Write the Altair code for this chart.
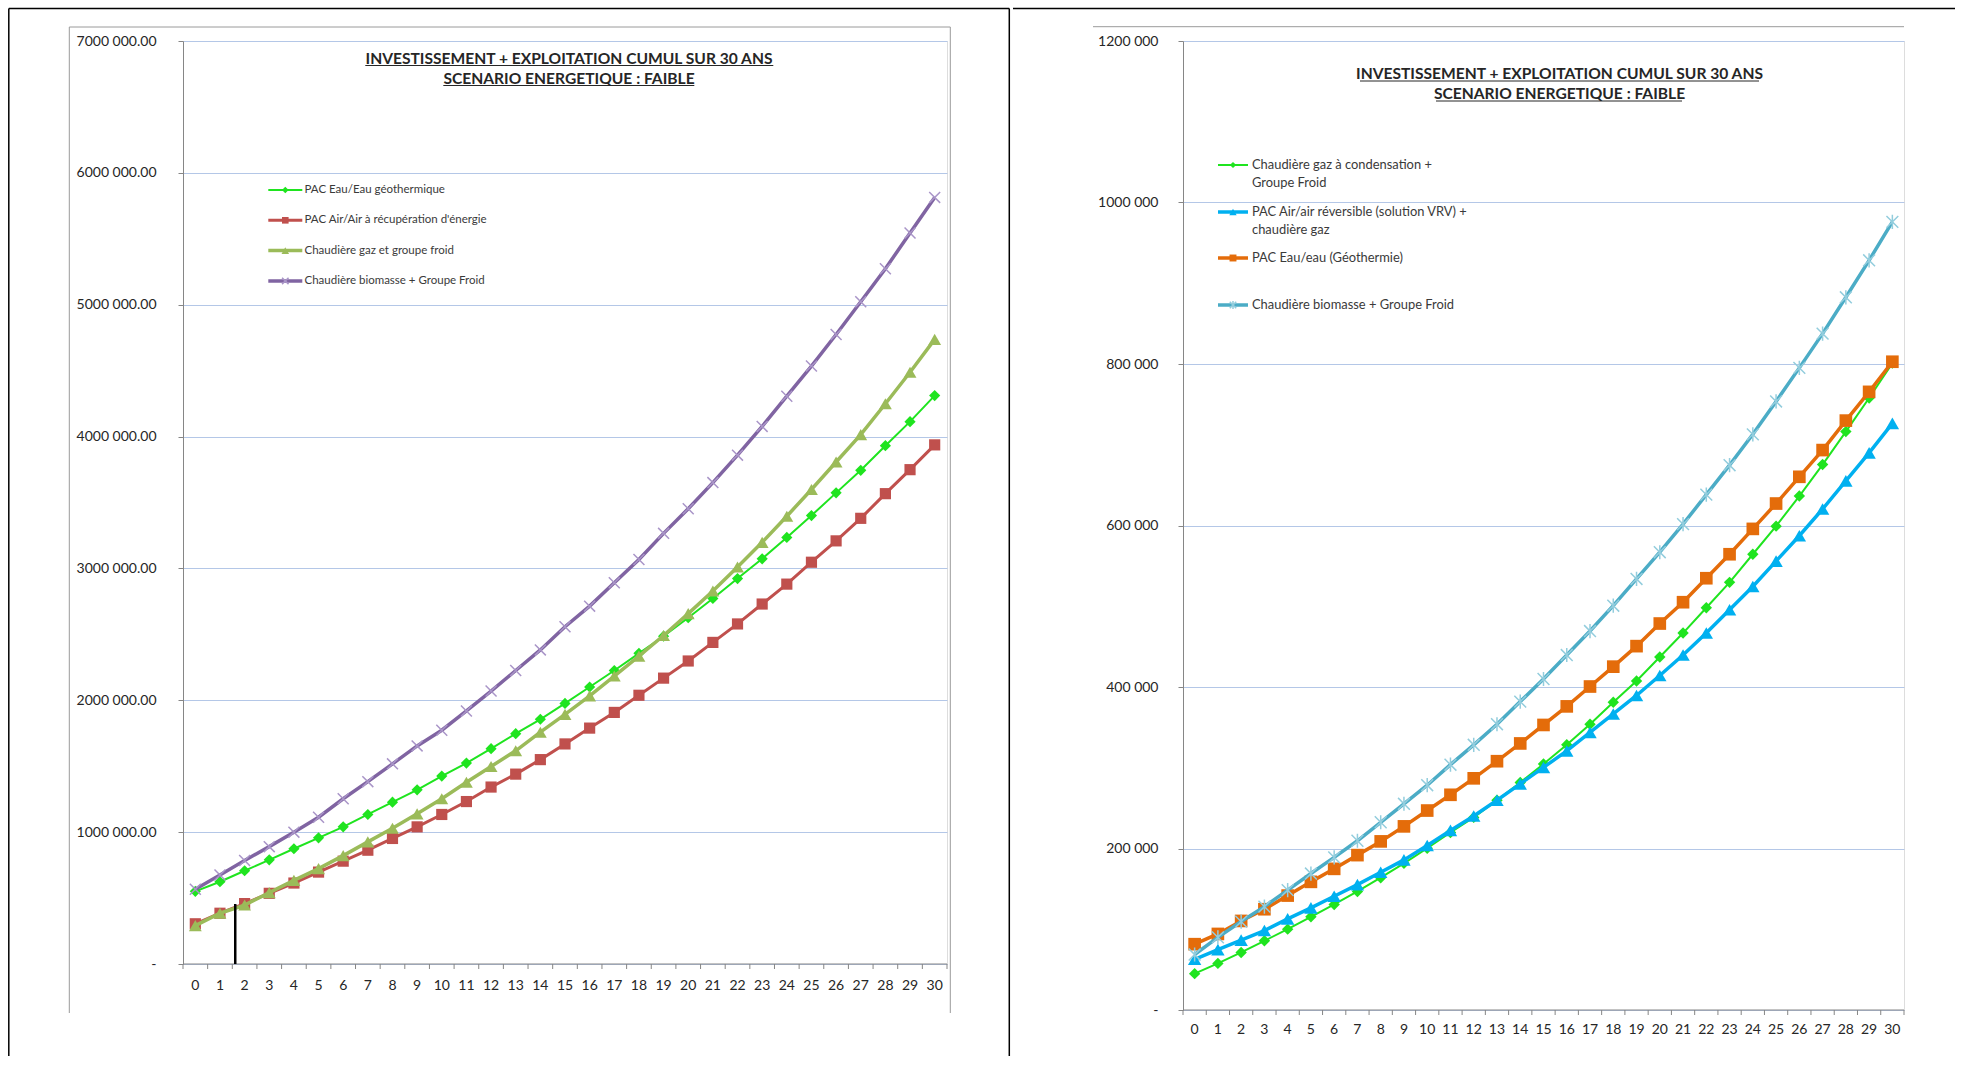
import altair as alt
import pandas as pd

FONT = "Lato"
TEXT = "#262626"
AXIS_GREY = "#868686"
GRID = "#B4C7E7"
FRAME_GREY = "#9A9A9A"

years = list(range(31))

# ---- left panel: cumulated cost over 30 years (EUR) ----
left_names = [
    "PAC Eau/Eau géothermique",
    "PAC Air/Air à récupération d'énergie",
    "Chaudière gaz et groupe froid",
    "Chaudière biomasse + Groupe Froid",
]
left_geo = [551000, 624000, 707000, 790000, 874000, 957000, 1040000, 1134000, 1227000, 1321000,
            1425000, 1524000, 1633000, 1747000, 1856000, 1976000, 2101000, 2226000, 2356000, 2486000,
            2626000, 2772000, 2923000, 3073000, 3235000, 3401000, 3573000, 3744000, 3931000, 4113000,
            4311000]
left_air = [305000, 385000, 458000, 536000, 614000, 697000, 780000, 863000, 952000, 1040000,
            1134000, 1232000, 1342000, 1440000, 1550000, 1669000, 1789000, 1908000, 2038000, 2168000,
            2298000, 2439000, 2579000, 2730000, 2881000, 3047000, 3209000, 3380000, 3567000, 3749000,
            3937000]
left_gaz = [291000, 385000, 447000, 541000, 634000, 723000, 822000, 926000, 1030000, 1139000,
            1253000, 1378000, 1498000, 1617000, 1758000, 1893000, 2033000, 2184000, 2335000, 2491000,
            2657000, 2829000, 3011000, 3198000, 3396000, 3599000, 3807000, 4015000, 4249000, 4488000,
            4737000]
left_bio = [567000, 675000, 785000, 890000, 1000000, 1113000, 1253000, 1383000, 1518000, 1654000,
            1773000, 1919000, 2070000, 2226000, 2382000, 2558000, 2714000, 2891000, 3068000, 3266000,
            3453000, 3651000, 3859000, 4077000, 4306000, 4535000, 4774000, 5023000, 5273000, 5544000,
            5814000]
left_y_ticks = [0, 1000000, 2000000, 3000000, 4000000, 5000000, 6000000, 7000000]
left_marker_year = [1.62]
left_marker_value = [455000]

# ---- right panel ----
right_names = [
    ["Chaudière gaz à condensation +", "Groupe Froid"],
    ["PAC Air/air réversible (solution VRV) +", "chaudière gaz"],
    ["PAC Eau/eau (Géothermie)"],
    ["Chaudière biomasse + Groupe Froid"],
]
right_gaz = [45000, 57700, 71300, 85700, 100100, 115400, 130700, 146800, 163800, 181600,
             200300, 219800, 238500, 259700, 281800, 304700, 328400, 353900, 381100, 407400,
             437100, 466800, 498200, 529600, 564400, 599200, 636500, 675500, 716300, 757900,
             801100]
right_vrv = [62800, 74700, 86600, 98400, 112900, 126500, 140900, 155300, 170600, 185900,
             203700, 222400, 240200, 259700, 280100, 300400, 320800, 343700, 366600, 389500,
             414200, 439600, 466800, 495600, 524500, 555900, 587300, 620400, 655200, 690000,
             726500]
right_geo = [81500, 94200, 110300, 124800, 141700, 158700, 174800, 191800, 208800, 227400,
             247000, 266500, 286900, 308100, 330100, 353000, 376000, 400600, 425200, 450600,
             478600, 505000, 534700, 564400, 595800, 627200, 660300, 693400, 729900, 765500,
             802800]
right_bio = [68700, 90000, 109500, 128000, 148500, 169000, 189000, 209600, 232500, 255400,
             278400, 303800, 328400, 353900, 381900, 409900, 439600, 469300, 500700, 533800,
             566900, 601700, 638200, 674700, 712900, 753600, 795200, 837600, 882600, 928400,
             976000]
right_y_ticks = [0, 200000, 400000, 600000, 800000, 1000000, 1200000]

title_lines = ["INVESTISSEMENT + EXPLOITATION CUMUL SUR 30 ANS ", "SCENARIO ENERGETIQUE : FAIBLE"]

X_CROSS = "M-1,-1L1,1M-1,1L1,-1"
ASTERISK = "M-1,-1L1,1M-1,1L1,-1M0,-1.2L0,1.2"

left_styles = [
    dict(color="#1FE41F", width=2, shape="diamond", size=125, filled=True, mcolor="#1FE41F", mstroke=0),
    dict(color="#C0504D", width=3, shape="square", size=125, filled=True, mcolor="#C0504D", mstroke=0),
    dict(color="#9BBB59", width=3.5, shape="triangle-up", size=165, filled=True, mcolor="#9BBB59", mstroke=0),
    dict(color="#8064A2", width=3.5, shape=X_CROSS, size=120, filled=False, mcolor="#A995C8", mstroke=1.5),
]
right_styles = [
    dict(color="#1FE41F", width=2, shape="diamond", size=130, filled=True, mcolor="#1FE41F", mstroke=0),
    dict(color="#00B0F0", width=3.5, shape="triangle-up", size=180, filled=True, mcolor="#00B0F0", mstroke=0),
    dict(color="#E46C0A", width=3.5, shape="square", size=160, filled=True, mcolor="#E46C0A", mstroke=0),
    dict(color="#4BACC6", width=3.5, shape=ASTERISK, size=140, filled=False, mcolor="#93CDDD", mstroke=1.5),
]

ONE = alt.Data(values=[{"k": 1}])
X_SCALE = alt.Scale(domain=[-0.5, 30.5], nice=False, zero=False)


def hline(x1, x2, y, color, width):
    return alt.Chart(ONE).mark_rule(color=color, strokeWidth=width).encode(
        x=alt.value(x1), x2=alt.value(x2), y=alt.value(y))


def vline(x, y1, y2, color, width):
    return alt.Chart(ONE).mark_rule(color=color, strokeWidth=width).encode(
        x=alt.value(x), y=alt.value(y1), y2=alt.value(y2))


def label(text, x, y, size, bold=False, align="left", color=TEXT):
    return alt.Chart(ONE).mark_text(
        text=text, font=FONT, fontSize=size, fontWeight="bold" if bold else "normal",
        align=align, baseline="middle", color=color,
    ).encode(x=alt.value(x), y=alt.value(y))


def marker(style, x, y, size):
    kw = dict(shape=style["shape"], size=size, opacity=1)
    if style["filled"]:
        kw.update(filled=True, color=style["mcolor"])
    else:
        kw.update(filled=False, color=style["mcolor"], strokeWidth=style["mstroke"])
    return alt.Chart(ONE).mark_point(**kw).encode(x=alt.value(x), y=alt.value(y))


def panel(series, styles, ymax, yticks, label_expr, W, H, y_pad, x_label_dy):
    x_enc = alt.X("annee:Q", scale=X_SCALE,
                  axis=alt.Axis(values=years, ticks=False, grid=False, labels=False,
                                domainColor=AXIS_GREY, domainWidth=1, title=None))
    y_enc = alt.Y("cout:Q", scale=alt.Scale(domain=[0, ymax], nice=False, zero=True),
                  axis=alt.Axis(values=yticks, labelExpr=label_expr, grid=True, gridColor=GRID,
                                gridWidth=1, tickSize=5, tickColor=AXIS_GREY, domainColor=AXIS_GREY,
                                domainWidth=1, labelFont=FONT, labelFontSize=14, labelColor=TEXT,
                                labelPadding=y_pad, title=None))
    layers = []
    for vals, st in zip(series, styles):
        df = pd.DataFrame({"annee": years, "cout": vals})
        base = alt.Chart(df)
        layers.append(base.mark_line(color=st["color"], strokeWidth=st["width"]).encode(x=x_enc, y=y_enc))
        if st["filled"]:
            pt = base.mark_point(shape=st["shape"], size=st["size"], filled=True,
                                 color=st["mcolor"], opacity=1)
        else:
            pt = base.mark_point(shape=st["shape"], size=st["size"], filled=False,
                                 color=st["mcolor"], strokeWidth=st["mstroke"], opacity=1)
        layers.append(pt.encode(x=x_enc, y=y_enc))
    # category separators and year labels along the horizontal axis
    sep = pd.DataFrame({"t": [i - 0.5 for i in range(32)]})
    guides = [
        hline(0, W, H, AXIS_GREY, 1),
        alt.Chart(sep).mark_rule(color=AXIS_GREY, strokeWidth=1).encode(
            x=alt.X("t:Q", scale=X_SCALE, axis=None), y=alt.value(H), y2=alt.value(H + 5)),
        alt.Chart(pd.DataFrame({"annee": years})).mark_text(
            font=FONT, fontSize=14, color=TEXT, align="center", baseline="middle").encode(
            x=alt.X("annee:Q", scale=X_SCALE, axis=None), y=alt.value(H + x_label_dy),
            text=alt.Text("annee:Q", format="d")),
    ]
    return layers, guides, x_enc, y_enc


NB = "\u00a0"
TITLE_SIZE = 15.6

# ---------------- left chart ----------------
LW, LH = 764, 923
l_layers, l_guides, lx, ly = panel(
    [left_geo, left_air, left_gaz, left_bio], left_styles, 7000000, left_y_ticks,
    f"datum.value == 0 ? '-{NB}{NB}{NB}' : format(datum.value / 1000, 'd') + ' 000.00'",
    LW, LH, 22, 22)

mk = pd.DataFrame({"annee": left_marker_year, "cout": left_marker_value})
l_marker = alt.Chart(mk).mark_rule(color="black", strokeWidth=2.5).encode(
    x=lx, y=ly, y2=alt.value(LH))

left_deco = [
    # outer border of the sheet
    vline(-174.2, -32.5, 1015, "black", 1.5),
    hline(-174.2, 826.3, -32.5, "black", 1.5),
    vline(826.3, -32.5, 1015, "black", 1.5),
    # chart area frame
    vline(-113.7, -14, 972, FRAME_GREY, 1),
    hline(-113.7, 767.3, -14, FRAME_GREY, 1),
    vline(767.3, -14, 972, FRAME_GREY, 1),
]
l_title = [
    label(title_lines[0], 386, 18, TITLE_SIZE, bold=True, align="center"),
    label(title_lines[1], 386, 38, TITLE_SIZE, bold=True, align="center"),
    hline(182.3, 590.3, 24.5, TEXT, 1),
    hline(260.3, 511.3, 44.5, TEXT, 1),
]
l_legend = []
for i, (name, st) in enumerate(zip(left_names, left_styles)):
    yy = 149 + 30.3 * i
    l_legend.append(hline(85.3, 119.3, yy, st["color"], st["width"]))
    l_legend.append(marker(st, 102.3, yy, st["size"] * 0.35))
    l_legend.append(label(name, 121.5, yy, 11.5, color="#3A3A3A"))

left_chart = alt.layer(
    *left_deco, *l_guides, *l_layers, l_marker, *l_title, *l_legend
).properties(width=LW, height=LH)

# ---------------- right chart ----------------
RW, RH = 721, 969
r_layers, r_guides, rx, ry = panel(
    [right_gaz, right_vrv, right_geo, right_bio], right_styles, 1200000, right_y_ticks,
    f"datum.value == 0 ? '-{NB}{NB}{NB}' : format(datum.value / 1000, 'd') + ' 000'",
    RW, RH, 20, 20)

right_deco = [
    hline(-170, 772, -32.5, "black", 1.5),
    hline(-90, 721, -14.3, FRAME_GREY, 1),
]
r_title = [
    label(title_lines[0], 376.5, 33, TITLE_SIZE, bold=True, align="center"),
    label(title_lines[1], 376.5, 53, TITLE_SIZE, bold=True, align="center"),
    hline(177, 576, 40, TEXT, 1),
    hline(253, 499, 60, TEXT, 1),
]
r_legend = []
for lines, st, yy in zip(right_names, right_styles, [124, 171, 217, 264]):
    r_legend.append(hline(35, 65, yy, st["color"], st["width"]))
    r_legend.append(marker(st, 50, yy, st["size"] * 0.3))
    for j, ln in enumerate(lines):
        r_legend.append(label(ln, 69, yy + 18 * j, 12.9, color="#3A3A3A"))

right_chart = alt.layer(
    *right_deco, *r_guides, *r_layers, *r_title, *r_legend
).properties(width=RW, height=RH)

chart = alt.hconcat(left_chart, right_chart, spacing=0).properties(
    padding={"left": 7, "top": 7, "right": 0, "bottom": 0}
).configure_view(stroke=None).configure(background="white")

chart.save("out.html", embed_options={"renderer": "svg", "actions": False})
